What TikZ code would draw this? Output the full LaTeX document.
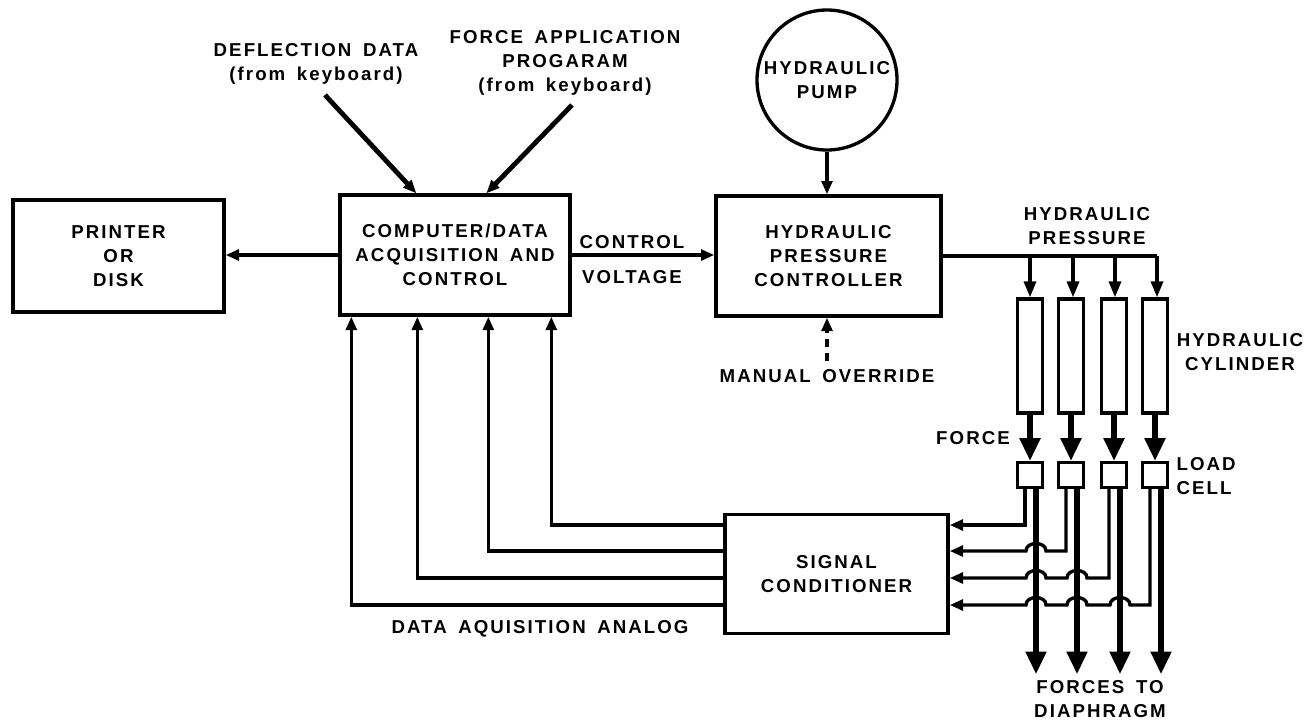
\documentclass[tikz,border=0pt]{standalone}
\usepackage{fontspec}
\newfontfamily\hvfam[LetterSpace=11,WordSpace=1.6]{Liberation Sans}
\newcommand\labfont{\hvfam\bfseries\fontsize{14}{18}\selectfont}
\usetikzlibrary{arrows.meta,calc}
\tikzset{
  lw/.style={line width=2.5pt},
  box/.style={draw, line width=2.5pt, align=center, font=\labfont, inner sep=0pt},
  lbl/.style={align=center, font=\labfont, inner sep=1pt},
  arr/.style={line width=2.5pt, -{Triangle[length=10pt,width=8pt]}},
  arrb/.style={line width=2.5pt, -{Triangle[length=12pt,width=9pt]}},
  frc/.style={line width=3.8pt, -{Triangle[length=17pt,width=15pt]}},
  kbd/.style={line width=3.6pt, -{Triangle[length=10pt,width=8pt]}},
  cylbox/.style={draw, line width=2.5pt, minimum width=18.75pt, minimum height=85.5pt, inner sep=0pt},
  cellbox/.style={draw, line width=2.5pt, minimum width=18.75pt, minimum height=18.75pt, inner sep=0pt},
}
\begin{document}
\begin{tikzpicture}[x=0.75pt,y=-0.75pt]
\useasboundingbox (0,0) rectangle (1316,719);

% main boxes
\node[box, minimum width=158.25pt, minimum height=84pt] (prn) at (118.5,256) {PRINTER\\OR\\DISK};
\node[box, minimum width=172.5pt, minimum height=90pt] (comp) at (455,255) {COMPUTER/DATA\\ACQUISITION AND\\CONTROL};
\node[box, minimum width=168.75pt, minimum height=90pt] (ctrl) at (828.5,256) {HYDRAULIC\\PRESSURE\\CONTROLLER};
\node[box, minimum width=167.25pt, minimum height=89.25pt] (sc) at (836.5,574) {SIGNAL\\CONDITIONER};
\node[box, circle, minimum size=105pt] (pump) at (827,80) {HYDRAULIC\\PUMP};

% cylinders and load cells
\foreach \i/\x in {1/1030,2/1071,3/1114,4/1155}{
  \node[cylbox] (cyl\i) at (\x,356) {};
  \node[cellbox] (lc\i) at (\x,475) {};
}

% labels
\node[lbl] (ldef) at (316,64) {DEFLECTION DATA\\(from keyboard)};
\node[lbl] (lfap) at (565,63) {FORCE APPLICATION\\PROGARAM\\(from keyboard)};
\node[lbl] (lcon) at (632,242) {CONTROL};
\node[lbl] (lvol) at (632,277) {VOLTAGE};
\node[lbl] (lman) at (827,376) {MANUAL OVERRIDE};
\node[lbl] (lhp) at (1087,226) {HYDRAULIC\\PRESSURE};
\node[lbl] (lhc) at (1240,352) {HYDRAULIC\\CYLINDER};
\node[lbl] (lfor) at (973,438) {FORCE};
\node[lbl, anchor=west, align=left] (llc) at (1175,476) {LOAD\\CELL};
\node[lbl] (lftd) at (1100,699) {FORCES TO\\DIAPHRAGM};
\node[lbl] (ldaq) at (540,629) {DATA AQUISITION ANALOG};

% keyboard inputs
\coordinate (k1) at (325,95);
\coordinate (k2) at (572,105);
\draw[kbd] (k1) -- ($(comp.north west)+(78,0)$);
\draw[kbd] (k2) -- ($(comp.north west)+(148,0)$);

% computer connections
\draw[arr] (comp.west) -- (comp.west -| prn.east);
\draw[arr] (comp.east) -- (comp.east -| ctrl.west);
\draw[arr] (pump.south) -- (pump.south |- ctrl.north);
\coordinate (mo) at (827,361);
\draw[arr, dash pattern=on 6pt off 4.5pt] (mo) -- (mo |- ctrl.south);

% hydraulic pressure distribution
\coordinate (pe) at (1157,256);
\draw[lw] (ctrl.east) -- (ctrl.east -| pe);
\foreach \i/\dx in {1/0,2/2,3/1,4/2}{
  \draw[arrb] ($(ctrl.east -| cyl\i.north)+(\dx,0)$) -- ($(cyl\i.north)+(\dx,0)$);
  \draw[frc] (cyl\i.south) -- (lc\i.north);
}

% load cell outputs
\foreach \i in {1,...,4}{
  \coordinate (s\i) at ($(lc\i.south)+(-5,0)$);
  \coordinate (t\i) at ($(lc\i.south)+(6,0)$);
  \coordinate (f\i) at ($(t\i)+(0,185)$);
}
\coordinate (r1) at (0,525);
\coordinate (r2) at (0,551);
\coordinate (r3) at (0,578);
\coordinate (r4) at (0,605);

\draw[arr] (s1) |- (sc.east |- r1);
\draw[arr] (s2) |- ($(t1 |- r2)+(10,0)$) .. controls +(0,-10) and +(0,-10) .. ($(t1 |- r2)+(-10,0)$) -- (sc.east |- r2);
\draw[arr] (s3) |- ($(t2 |- r3)+(10,0)$) .. controls +(0,-10) and +(0,-10) .. ($(t2 |- r3)+(-10,0)$)
   -- ($(t1 |- r3)+(10,0)$) .. controls +(0,-10) and +(0,-10) .. ($(t1 |- r3)+(-10,0)$) -- (sc.east |- r3);
\draw[arr] (s4) |- ($(t3 |- r4)+(10,0)$) .. controls +(0,-10) and +(0,-10) .. ($(t3 |- r4)+(-10,0)$)
   -- ($(t2 |- r4)+(10,0)$) .. controls +(0,-10) and +(0,-10) .. ($(t2 |- r4)+(-10,0)$)
   -- ($(t1 |- r4)+(10,0)$) .. controls +(0,-10) and +(0,-10) .. ($(t1 |- r4)+(-10,0)$) -- (sc.east |- r4);

\foreach \i in {1,...,4}{
  \draw[frc] (t\i) -- (f\i);
}

% signal conditioner outputs to computer
\draw[arr] (sc.west |- r1) -| ($(comp.south west)+(213,0)$);
\draw[arr] (sc.west |- r2) -| ($(comp.south west)+(150,0)$);
\draw[arr] (sc.west |- r3) -| ($(comp.south west)+(79,0)$);
\draw[arr] (sc.west |- r4) -| ($(comp.south west)+(13,0)$);
\end{tikzpicture}
\end{document}
